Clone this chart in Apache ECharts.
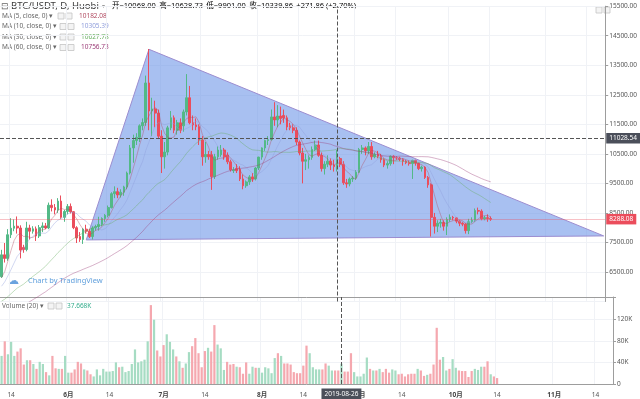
<!DOCTYPE html>
<html>
<head>
<meta charset="utf-8">
<script src="https://cdn.jsdelivr.net/npm/echarts@6/dist/echarts.min.js"></script>
<style>
html, body { margin: 0; padding: 0; background: #fff; }
#chart { width: 640px; height: 399px; }
</style>
</head>
<body>
<div id="chart"></div>
<script>
// Huobi BTC/USDT daily, 2019-05-11 .. 2019-10-14   [open, high, low, close]
const ohlc = [
  [6340, 7250, 6300, 7080], // 05-11
  [7080, 7480, 6820, 6960],
  [6960, 7950, 6880, 7760],
  [7760, 8320, 7650, 7980],
  [7980, 8280, 7880, 8050], // 05-15
  [8050, 8380, 7800, 7990],
  [7990, 8080, 6960, 7240],
  [7330, 7420, 7150, 7260],
  [7260, 8200, 7200, 7990],
  [7990, 8100, 7600, 7880], // 05-20
  [7880, 8050, 7800, 7960],
  [7960, 8040, 7550, 7720],
  [7720, 8090, 7650, 8000],
  [8000, 8180, 7850, 8060],
  [8060, 8160, 7950, 7990], // 05-25
  [7990, 8850, 7950, 8760],
  [8760, 8960, 8550, 8680],
  [8680, 8800, 8450, 8600],
  [8600, 9000, 8500, 8900],
  [8900, 9090, 8300, 8350], // 05-30
  [8350, 8600, 8200, 8550],
  [8550, 8800, 8450, 8720], // 06-01
  [8720, 8820, 8480, 8540],
  [8540, 8560, 7950, 8000],
  [8000, 8050, 7480, 7650],
  [7700, 7850, 7520, 7600], // 06-05
  [7600, 7980, 7450, 7950],
  [7950, 8100, 7800, 7880],
  [7880, 7960, 7650, 7700],
  [7700, 8050, 7600, 7990],
  [7990, 8100, 7900, 8040], // 06-10
  [8040, 8370, 7900, 8110],
  [8110, 8350, 8050, 8310],
  [8310, 8460, 8200, 8420],
  [8420, 8750, 8350, 8680],
  [8680, 9200, 8650, 9150], // 06-15
  [9150, 9400, 9000, 9220],
  [9220, 9350, 9000, 9110],
  [9110, 9300, 9020, 9200],
  [9200, 9420, 9080, 9380],
  [9380, 9900, 9300, 9850], // 06-20
  [9850, 10800, 9800, 10700],
  [10700, 11150, 10200, 10950],
  [10950, 11200, 10800, 11060],
  [11060, 11500, 10900, 11450],
  [11450, 11700, 11300, 11560], // 06-25
  [11560, 13150, 11450, 12900],
  [12900, 14050, 11300, 11950],
  [11950, 12400, 11100, 12020],
  [12020, 12300, 11400, 11880],
  [11880, 12000, 11000, 11100], // 06-30
  [11100, 11300, 9850, 10400], // 07-01
  [10400, 10900, 10000, 10560],
  [10560, 11450, 10450, 11380],
  [11380, 11950, 11300, 11720],
  [11720, 11800, 11200, 11300], // 07-05
  [11300, 11650, 11150, 11550],
  [11550, 11700, 11200, 11300],
  [11450, 12000, 11250, 11920],
  [11920, 13200, 11800, 12400],
  [12400, 12800, 11500, 11550], // 07-10
  [11550, 11800, 11300, 11480],
  [11480, 11700, 11300, 11420],
  [11420, 11500, 10800, 10970],
  [10970, 11100, 10100, 10400],
  [10400, 10900, 10200, 10480], // 07-15
  [10480, 10600, 10300, 10400],
  [10470, 10600, 9280, 9730],
  [9730, 10500, 9650, 10400],
  [10400, 10750, 10300, 10630],
  [10470, 10800, 10400, 10630], // 07-20
  [10630, 10700, 10300, 10400],
  [10460, 10550, 10150, 10230],
  [10230, 10300, 9900, 9960],
  [9930, 10050, 9850, 9960],
  [10000, 10150, 9850, 9930], // 07-25
  [9980, 10080, 9580, 9650],
  [9650, 9800, 9300, 9420],
  [9420, 9600, 9350, 9550],
  [9550, 9780, 9450, 9720],
  [9720, 9850, 9550, 9650], // 07-30
  [9650, 10050, 9600, 10020],
  [10020, 10400, 9950, 10390], // 08-01
  [10390, 10720, 10300, 10700],
  [10700, 10980, 10600, 10950],
  [10950, 11100, 10800, 10980],
  [10980, 12000, 10950, 11750], // 08-05
  [11750, 12250, 11450, 11650],
  [11650, 12150, 11400, 11780],
  [11780, 12100, 11500, 11700],
  [11800, 12000, 11550, 11720],
  [11720, 11800, 11300, 11410], // 08-10
  [11450, 11550, 11300, 11380],
  [11380, 11500, 11200, 11300],
  [11300, 11400, 10800, 10900],
  [10900, 10950, 10450, 10530],
  [10530, 10700, 9500, 10250], // 08-15
  [10250, 10500, 9950, 10300],
  [10300, 10450, 10000, 10380],
  [10380, 10750, 10300, 10650],
  [10650, 10950, 10600, 10800],
  [10800, 10950, 10400, 10450], // 08-20
  [10450, 10550, 9900, 10000],
  [10000, 10250, 9800, 10150],
  [10150, 10450, 10050, 10250],
  [10250, 10350, 9950, 10120],
  [10120, 10300, 9900, 10068], // 08-25
  [10068, 10628.73, 9901, 10339.86],
  [10340, 10400, 10050, 10150],
  [10150, 10250, 9450, 9520],
  [9520, 9650, 9350, 9480],
  [9480, 9700, 9400, 9650], // 08-30
  [9650, 9750, 9550, 9680],
  [9680, 9950, 9620, 9880], // 09-01
  [9880, 10700, 9850, 10650],
  [10650, 10800, 10500, 10700],
  [10700, 10750, 10450, 10600],
  [10600, 10900, 10500, 10750], // 09-05
  [10750, 10900, 10300, 10400],
  [10400, 10550, 10350, 10480],
  [10480, 10600, 10350, 10420],
  [10420, 10500, 10200, 10300],
  [10300, 10350, 10050, 10120], // 09-10
  [10120, 10250, 10000, 10170],
  [10170, 10450, 10100, 10420],
  [10420, 10450, 10150, 10370],
  [10370, 10420, 10300, 10360],
  [10360, 10400, 10250, 10320], // 09-15
  [10320, 10350, 10100, 10250],
  [10250, 10300, 10150, 10200],
  [10200, 10280, 10100, 10170],
  [10170, 10300, 9650, 10280],
  [10280, 10300, 10100, 10180], // 09-20
  [10180, 10200, 9950, 10000],
  [10000, 10100, 9900, 10050],
  [10050, 10080, 9650, 9700],
  [9700, 9750, 9350, 9450],
  [9450, 9500, 7700, 8350], // 09-25
  [8350, 8500, 7800, 8050],
  [8050, 8250, 7850, 8150],
  [8150, 8300, 8000, 8180],
  [8180, 8250, 7900, 8050],
  [8050, 8350, 7750, 8280], // 09-30
  [8280, 8450, 8200, 8350], // 10-01
  [8350, 8400, 8250, 8330],
  [8330, 8350, 8150, 8220],
  [8220, 8250, 8050, 8150],
  [8150, 8200, 8050, 8120], // 10-05
  [8120, 8150, 7800, 7900],
  [7900, 8300, 7780, 8200],
  [8200, 8350, 8150, 8250],
  [8250, 8650, 8200, 8580],
  [8580, 8680, 8450, 8560], // 10-10
  [8560, 8620, 8250, 8300],
  [8300, 8400, 8250, 8340],
  [8340, 8450, 8200, 8310],
  [8310, 8380, 8230, 8288.08] // 10-14
];

// volume, thousands
const volumes = [
  52, 79, 55, 78, 52, 60, 66, 36, 44, 44,
  37, 28, 41, 37, 22, 16, 52, 29, 28, 28,
  52, 21, 21, 27, 41, 38, 27, 25, 18, 14,
  27, 16, 28, 23, 23, 24, 40, 31, 32, 22,
  24, 37, 64, 40, 42, 45, 79, 146, 119, 62,
  51, 72, 92, 78, 64, 51, 42, 30, 38, 59,
  70, 85, 57, 31, 61, 67, 60, 109, 73, 66,
  26, 41, 36, 37, 32, 31, 19, 40, 19, 32,
  30, 30, 21, 31, 29, 20, 48, 57, 52, 38,
  38, 36, 22, 20, 20, 34, 71, 57, 31, 27,
  27, 27, 38, 34, 25, 25, 25, 37.668, 23, 23,
  57, 22, 14, 14, 19, 49, 28, 25, 25, 28,
  22, 28, 21, 27, 25, 18, 19, 14, 18, 19,
  19, 28, 25, 15, 17, 19, 36, 104, 45, 50,
  25, 28, 46, 30, 25, 24, 24, 13, 24, 28,
  26, 32, 32, 42, 18, 14, 11
];

// closes before the first visible candle (03-13 .. 05-10), only for the MA warm-up
const priorCloses = [
  3870, 3880, 3890, 3960, 4000, 3990, 4000, 4020, 4000, 3990,
  4010, 4000, 3930, 3960, 4040, 4010, 4110, 4100, 4110,
  4140, 4880, 4970, 4910, 5040, 5060, 5200, 5280, 5170, 5330,
  5040, 5080, 5070, 5160, 5040, 5200, 5240, 5290, 5280, 5320,
  5280, 5380, 5520, 5440, 5200, 5270, 5270, 5260, 5220, 5330,
  5390, 5500, 5750, 5850, 5770, 5760, 5950, 6000, 6180, 6340
];

const firstDay = '2019-05-11';
const dayCount = 193; // axis runs on to 11-19
const triangle = [['2019-06-07', 7585], ['2019-06-27', 14041], ['2019-11-19', 7721]];
const crossDate = '2019-08-26';
const crossPrice = 11028.54;
const lastPrice = 8288.08;
const maDays = [5, 10, 30, 60];
const maColors = ['#b0485f', '#8f9ddb', '#64ad5c', '#9c3d78'];
const maLegend = ['10182.08', '10305.39', '10627.78', '10756.73'];

const UP = '#53b987', DOWN = '#eb4d5c';
const UP_VOL = '#a6dcc3', DOWN_VOL = '#f5a8af';

const dates = [];
const t0 = Date.parse(firstDay + 'T00:00:00Z');
for (let i = 0; i < dayCount; i++) {
  dates.push(new Date(t0 + i * 86400000).toISOString().slice(0, 10));
}

const closes = ohlc.map(r => r[3]);
const allCloses = priorCloses.concat(closes);
function movingAvg(n) {
  return closes.map((c, i) => {
    const end = i + priorCloses.length;
    if (end - n + 1 < 0) return null;
    let s = 0;
    for (let k = end - n + 1; k <= end; k++) s += allCloses[k];
    return +(s / n).toFixed(2);
  });
}

const candleData = ohlc.map(r => [r[0], r[3], r[2], r[1]]);
const volData = volumes.map((v, i) => ({
  value: v * 1000,
  itemStyle: { color: ohlc[i][3] >= ohlc[i][0] ? UP_VOL : DOWN_VOL }
}));

const isMark = (idx, value) => {
  const d = String(value).slice(8);
  return d === '01' || d === '14';
};

const FONT = '"Noto Sans", "Noto Sans CJK SC", sans-serif';
const gridLine = '#f0f2f6';
const axisGrey = '#9d9d9d';

const myChart = echarts.init(document.getElementById('chart'));

const maSeries = maDays.map((n, k) => ({
  name: 'MA' + n,
  type: 'line',
  xAxisIndex: 0,
  yAxisIndex: 0,
  data: movingAvg(n),
  showSymbol: false,
  silent: true,
  z: 4,
  lineStyle: { width: 1, color: maColors[k], opacity: 0.4 }
}));

function box(x, yMid) {
  return { type: 'rect', shape: { x: x, y: yMid - 3, width: 6, height: 6 },
    style: { fill: '#f4f4f4', stroke: '#c4c4c4', lineWidth: 0.8 }, silent: true };
}
function label(x, yMid, text, size, color) {
  return { type: 'text', x: x, y: yMid, silent: true,
    style: { text: text, font: size + 'px ' + FONT, fill: color, verticalAlign: 'middle' } };
}

const graphics = [
  label(1, 6, '⊟', 9, '#666'),
  label(11, 6, 'BTC/USDT, D, Huobi', 9.5, '#3a3a3a'),
  label(102, 6, '▾', 6, '#999'),
  { type: 'text', x: 112, y: 6, silent: true, style: {
      verticalAlign: 'middle',
      text: '{l|开=}{v|10068.00} {l|高=}{v|10628.73} {l|低=}{v|9901.00} {l|收=}{v|10339.86} {v|+271.86 (+2.70%)}',
      rich: {
        l: { fontSize: 7.5, fontFamily: FONT, color: '#5f6c68' },
        v: { fontSize: 7.5, fontFamily: FONT, color: '#36ad8d' }
      }
  } },
  box(596, 10), box(604, 10),
  label(2, 306, 'Volume (20) ▾', 6.5, '#666'),
  box(48, 306), box(56, 306),
  label(67, 306, '37.668K', 6.5, '#36ad8d'),
  { type: 'text', x: 8, y: 281, silent: true, style: { text: '☁', font: '11px "DejaVu Sans"', fill: '#6aa3de', verticalAlign: 'middle' } },
  label(28, 281, 'Chart by TradingView', 7.5, '#5f9fdc')
];
maDays.forEach((n, k) => {
  const y = 16 + k * 10.5;
  const boxX = n === 5 ? 58 : 60;
  graphics.push(label(2, y, 'MA (' + n + ', close, 0) ▾', 6.5, '#666'));
  graphics.push(box(boxX, y), box(boxX + 8, y));
  graphics.push(label(n === 5 ? 79 : 81, y, maLegend[k], 6.5, maColors[k]));
});

const pointerLabel = {
  show: true, color: '#fff', fontSize: 6.5,
  fontFamily: FONT, padding: [2, 3], borderRadius: 0
};

const option = {
  animation: false,
  textStyle: { fontFamily: FONT },
  axisPointer: { triggerOn: 'none' },
  graphic: graphics,
  grid: [
    { left: 0, right: 27, top: 6.2, height: 295.3 },
    { left: 0, right: 27, top: 297, height: 87 }
  ],
  xAxis: [
    {
      type: 'category', gridIndex: 0, data: dates, boundaryGap: true,
      axisLine: { show: false }, axisTick: { show: false }, axisLabel: { show: false },
      splitLine: { show: true, interval: isMark, lineStyle: { color: gridLine } },
      axisPointer: {
        show: true, value: dates.indexOf(crossDate), status: 'show', type: 'line',
        lineStyle: { type: 'dashed', color: '#555', width: 1 }, label: { show: false }
      }
    },
    {
      type: 'category', gridIndex: 1, data: dates, boundaryGap: true, offset: 4,
      axisLine: { show: true, lineStyle: { color: axisGrey } },
      axisTick: { show: false },
      axisLabel: {
        interval: isMark, margin: 4, fontSize: 6.5, color: '#555',
        formatter: v => v.slice(8) === '01' ? '{m|' + (+v.slice(5, 7)) + '月}' : '14',
        rich: { m: { fontSize: 6.5, fontWeight: 'bold', color: '#444' } }
      },
      splitLine: { show: true, interval: isMark, lineStyle: { color: gridLine } },
      axisPointer: {
        show: true, value: dates.indexOf(crossDate), status: 'show', type: 'line',
        lineStyle: { type: 'dashed', color: '#555', width: 1 },
        label: Object.assign({ margin: 2, backgroundColor: '#4b4f5a' }, pointerLabel)
      }
    },
    {
      type: 'category', gridIndex: 1, data: dates, position: 'top',
      axisLine: { show: true, lineStyle: { color: axisGrey } },
      axisTick: { show: false }, axisLabel: { show: false }, splitLine: { show: false }
    }
  ],
  yAxis: [
    {
      type: 'value', gridIndex: 0, position: 'right', min: 5500, max: 15500, interval: 1000,
      axisLine: { show: true, lineStyle: { color: axisGrey } },
      axisTick: { show: true, length: 3, lineStyle: { color: axisGrey } },
      axisLabel: {
        margin: 4, fontSize: 6.5, color: '#555', showMinLabel: false,
        formatter: v => (v % 1000 === 500 && v > 6000) ? v.toFixed(2) : ''
      },
      splitLine: { show: true, lineStyle: { color: gridLine } },
      axisPointer: {
        show: true, value: crossPrice, status: 'show', type: 'line',
        lineStyle: { type: 'dashed', color: '#555', width: 1 },
        label: Object.assign({ margin: 1, backgroundColor: '#4b4f5a', formatter: p => Number(p.value).toFixed(2) }, pointerLabel)
      }
    },
    {
      type: 'value', gridIndex: 1, position: 'right', min: 0, max: 161000, interval: 40000,
      axisLine: { show: true, lineStyle: { color: axisGrey } },
      axisTick: { show: true, length: 3, lineStyle: { color: axisGrey } },
      axisLabel: {
        margin: 4, fontSize: 6.5, color: '#555',
        formatter: v => v === 0 ? '0' : (v % 40000 === 0 && v <= 120000 ? (v / 1000) + 'K' : '')
      },
      splitLine: { show: true, lineStyle: { color: gridLine } }
    },
    {
      // carries only the last-price tag on the price scale
      type: 'value', gridIndex: 0, position: 'right', min: 5500, max: 15500,
      axisLine: { show: false }, axisTick: { show: false }, axisLabel: { show: false },
      splitLine: { show: false },
      axisPointer: {
        show: true, value: lastPrice, status: 'show', type: 'line',
        lineStyle: { opacity: 0 },
        label: Object.assign({ margin: 1, backgroundColor: DOWN, formatter: p => Number(p.value).toFixed(2) }, pointerLabel)
      }
    }
  ],
  series: [
    {
      type: 'custom',
      xAxisIndex: 0,
      yAxisIndex: 0,
      z: 1,
      silent: true,
      data: [[0, lastPrice]],
      renderItem: (params, api) => ({
        type: 'polygon',
        shape: { points: triangle.map(t => api.coord([dates.indexOf(t[0]), t[1]])) },
        style: { fill: 'rgba(110,150,232,0.6)', stroke: '#9b8ccf', lineWidth: 1 }
      })
    },
    {
      type: 'candlestick',
      xAxisIndex: 0,
      yAxisIndex: 0,
      z: 3,
      barWidth: '70%',
      data: candleData,
      itemStyle: { color: UP, color0: DOWN, borderColor: UP, borderColor0: DOWN, borderWidth: 1 },
      markLine: {
        silent: true,
        symbol: ['none', 'none'],
        data: [{ yAxis: lastPrice }],
        lineStyle: { color: 'rgba(235,77,92,0.35)', type: 'solid', width: 1 },
        label: { show: false }
      }
    },
    ...maSeries,
    {
      type: 'bar',
      xAxisIndex: 1,
      yAxisIndex: 1,
      barWidth: '70%',
      data: volData
    }
  ]
};

myChart.setOption(option);
window.addEventListener('resize', myChart.resize);
</script>
</body>
</html>
